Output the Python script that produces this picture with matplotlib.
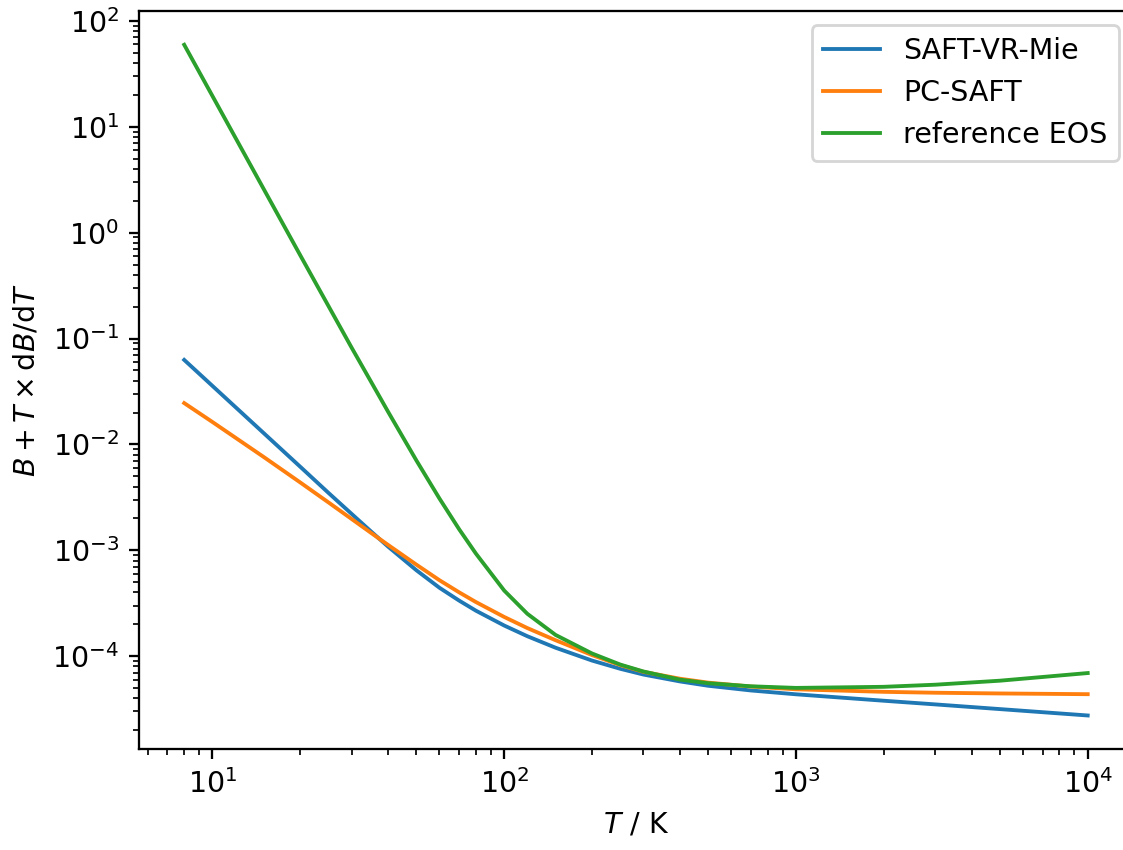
import matplotlib
matplotlib.use("Agg")
import matplotlib.pyplot as plt

T = [8, 10, 15, 20, 25, 30, 35, 40, 50, 60, 70, 80, 100, 120, 150, 200, 250, 300, 400, 500, 700, 1000,
     2000, 3000, 5000, 10000]

saft_vr_mie = [0.0628, 0.03565, 0.01274, 0.00614, 0.003475, 0.002203, 0.0015, 0.001081, 6.47e-4, 4.42e-4,
               3.35e-4, 2.685e-4, 1.945e-4, 1.542e-4, 1.2e-4, 9.08e-5, 7.59e-5, 6.70e-5, 5.77e-5, 5.25e-5,
               4.74e-5, 4.36e-5, 3.79e-5, 3.50e-5, 3.16e-5, 2.75e-5]
pc_saft = [0.02455, 0.01626, 0.007586, 0.004365, 0.002825, 0.001972, 0.001455, 0.001122, 7.31e-4, 5.21e-4,
           4.01e-4, 3.24e-4, 2.344e-4, 1.841e-4, 1.413e-4, 1.023e-4, 8.22e-5, 7.11e-5, 6.12e-5, 5.62e-5,
           5.16e-5, 4.86e-5, 4.60e-5, 4.51e-5, 4.44e-5, 4.37e-5]
reference_eos = [59.5, 19.5, 2.567, 0.610, 0.2018, 0.0818, 0.0388, 0.0203, 0.00705, 0.003076,
                 0.001585, 9.29e-4, 4.16e-4, 2.512e-4, 1.585e-4, 1.059e-4, 8.32e-5, 7.16e-5, 6.00e-5, 5.55e-5,
                 5.19e-5, 5.01e-5, 5.13e-5, 5.37e-5, 5.86e-5, 6.92e-5]

labels = ["SAFT-VR-Mie", "PC-SAFT", "reference EOS"]

dpi = 205
fig = plt.figure(figsize=(1123 / dpi, 850 / dpi), dpi=dpi)
ax = fig.add_axes([0.1238, 0.1188, 0.885, 0.868])
for ys, lab in zip([saft_vr_mie, pc_saft, reference_eos], labels):
    ax.plot(T, ys, label=lab, linewidth=1.35)
ax.set_xscale("log")
ax.set_yscale("log")
ax.set_xlabel(r"$T$ / K")
ax.set_ylabel(r"$B + T \times \mathrm{d}B/\mathrm{d}T$")
ax.legend(loc="upper right")
fig.savefig("out.png", dpi=dpi)
